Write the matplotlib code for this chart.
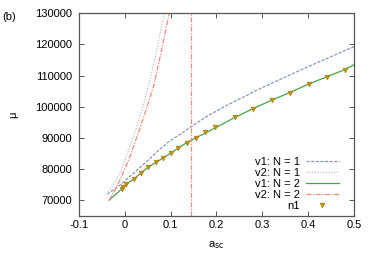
import matplotlib.pyplot as plt

plt.rcParams['font.family'] = ['Liberation Sans', 'DejaVu Sans']
plt.rcParams['font.size'] = 8

# v1: N = 1
x_v1n1 = [-0.0386, -0.011, 0.018, 0.055, 0.075, 0.095, 0.12, 0.142, 0.18, 0.222,
          0.295, 0.382, 0.5]
y_v1n1 = [71900, 74800, 78500, 83400, 86200, 88700, 91100, 93300, 97000, 100400,
          105800, 111700, 119300]

# v2: N = 1
x_v2n1 = [-0.0386, -0.025, -0.011, 0.0, 0.011, 0.022, 0.0328, 0.0524, 0.07, 0.0858, 0.09]
y_v2n1 = [72000, 75000, 78560, 82700, 87100, 91800, 96720, 106900, 118500, 130000, 133500]

# v1: N = 2
x_v1n2 = [-0.034, -0.0072, 0.002, 0.02, 0.05, 0.1, 0.135, 0.2, 0.24, 0.28,
          0.32, 0.36, 0.4, 0.44, 0.48, 0.5]
y_v1n2 = [70000, 73520, 75030, 76830, 80490, 85080, 88500, 93400, 96550, 99420,
          102080, 104550, 107220, 109560, 111930, 113500]

# v2: N = 2
x_v2n2 = [-0.034, -0.022, -0.011, 0.0, 0.011, 0.0328, 0.048, 0.0633, 0.08, 0.0968, 0.1]
y_v2n2 = [70000, 73100, 76400, 80000, 83900, 93000, 99700, 106900, 118000, 130000, 132500]
asym_v2n2 = 0.1434

# n1
x_n1 = [-0.0072, -0.0037, 0.002, 0.020, 0.035, 0.051, 0.067, 0.084, 0.100, 0.116,
        0.135, 0.155, 0.176, 0.196, 0.240, 0.280, 0.321, 0.361, 0.401, 0.441, 0.481]
y_n1 = [73520, 74070, 75030, 76830, 78750, 80490, 82090, 83570, 85080, 86590,
        88480, 90080, 91800, 93400, 96550, 99420, 102080, 104550, 107220, 109560, 111930]

xticks = [-0.1, 0, 0.1, 0.2, 0.3, 0.4, 0.5]
xtick_labels = ['-0.1', '0', '0.1', '0.2', '0.3', '0.4', '0.5']
yticks = [70000, 80000, 90000, 100000, 110000, 120000, 130000]

fig = plt.figure(figsize=(3.74, 2.62), dpi=100)
ax = fig.add_axes([0.2112, 0.1767, 0.7353, 0.7725])

ax.plot(x_v1n1, y_v1n1, color='#8a96b4', lw=0.9, ls=(0, (2.5, 1.2)), label='v1: N = 1')
ax.plot(x_v2n1, y_v2n1, color='#c4c4c4', lw=0.9, ls=(0, (1, 1.2)), label='v2: N = 1')
ax.plot(x_v1n2, y_v1n2, color='#44a544', lw=0.9, ls='-', label='v1: N = 2')
red_style = dict(color='#f48a7c', lw=0.9, ls=(0, (4, 1.2, 1, 1.2)))
ax.plot(x_v2n2, y_v2n2, label='v2: N = 2', **red_style)
ax.axvline(asym_v2n2, **red_style)
ax.plot(x_n1, y_n1, ls='none', marker='v', ms=3.3, color='#c8960c',
        markeredgecolor='#a87808', markeredgewidth=0.5, label='n1')

ax.set_xlim(-0.1, 0.5)
ax.set_ylim(65000, 130000)
ax.set_xticks(xticks)
ax.set_xticklabels(xtick_labels)
ax.set_yticks(yticks)
ax.set_yticklabels([str(v) for v in yticks])
ax.tick_params(direction='in', length=3.5, width=0.7, top=True, right=True,
               colors='#555555', labelcolor='black', pad=3)
ax.tick_params(axis='y', pad=5)
for s in ax.spines.values():
    s.set_color('#555555')
    s.set_linewidth(0.9)

ax.set_xlabel(r'a$_{\mathrm{sc}}$', labelpad=7)
ax.set_ylabel('μ', labelpad=12)
fig.text(0.005, 0.925, '(b)', fontsize=8)

leg = ax.legend(loc='lower right', bbox_to_anchor=(0.97, -0.01), frameon=False,
                markerfirst=False, handlelength=3.0, handletextpad=0.5,
                labelspacing=0.1, borderaxespad=0.2, fontsize=8)
for t in leg.get_texts():
    t.set_ha('right')
leg._legend_box.align = 'right'

fig.savefig('out.png', dpi=100)
